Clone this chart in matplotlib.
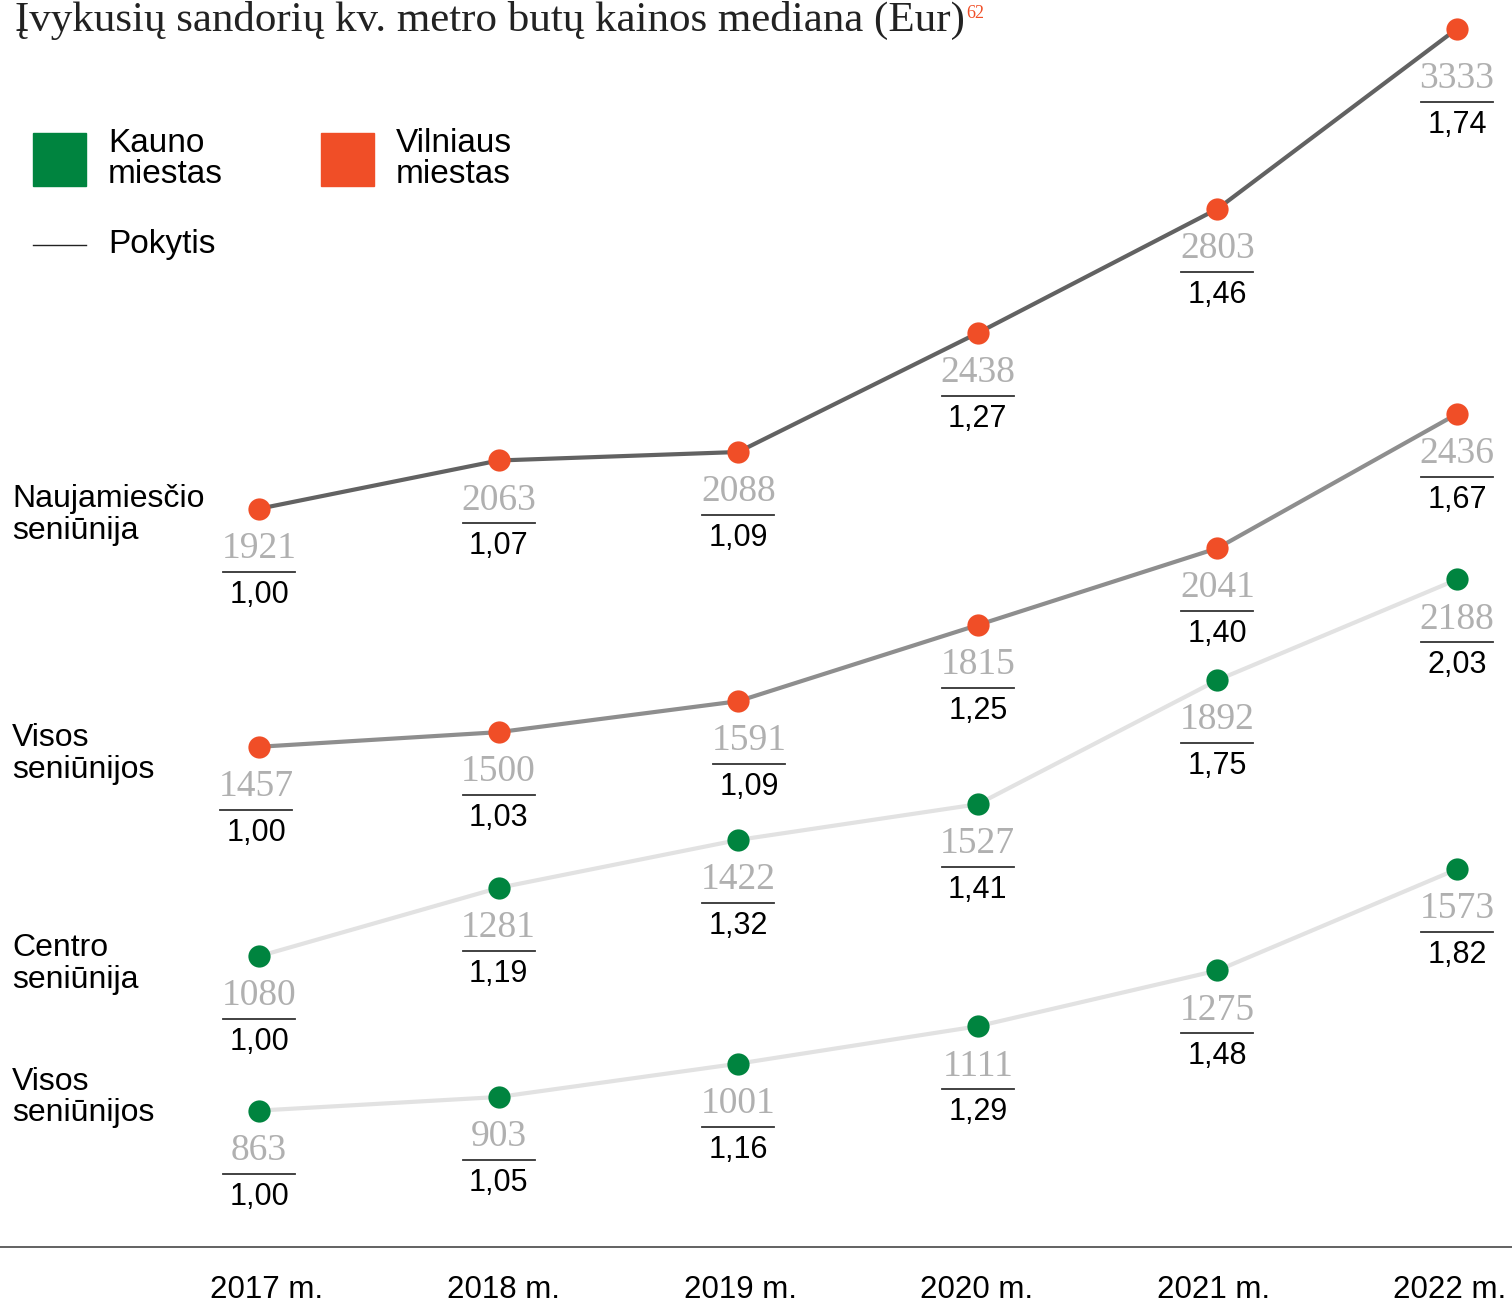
import matplotlib.pyplot as plt
from matplotlib.patches import Rectangle
from matplotlib.lines import Line2D

# ---- data ----
years = [2017, 2018, 2019, 2020, 2021, 2022]
year_labels = ['2017 m.', '2018 m.', '2019 m.', '2020 m.', '2021 m.', '2022 m.']

vln_naujam = [1921, 2063, 2088, 2438, 2803, 3333]
vln_naujam_ratio = ['1,00', '1,07', '1,09', '1,27', '1,46', '1,74']
vln_visos = [1457, 1500, 1591, 1815, 2041, 2436]
vln_visos_ratio = ['1,00', '1,03', '1,09', '1,25', '1,40', '1,67']
kau_centro = [1080, 1281, 1422, 1527, 1892, 2188]
kau_centro_ratio = ['1,00', '1,19', '1,32', '1,41', '1,75', '2,03']
kau_visos = [863, 903, 1001, 1111, 1275, 1573]
kau_visos_ratio = ['1,00', '1,05', '1,16', '1,29', '1,48', '1,82']

# ---- style ----
W, H = 1512, 1308
GREEN = '#00843f'
ORANGE = '#f04e27'
SANS = ['Liberation Sans', 'DejaVu Sans']
SERIF = ['Liberation Serif', 'DejaVu Serif']

fig = plt.figure(figsize=(W / 100, H / 100), dpi=100)
ax = fig.add_axes([0, 0, 1, 1])
XLIM = (2015.919, 2022.2295)
YLIM = (282.35, 4129.4)
ax.set_xlim(*XLIM)
ax.set_ylim(*YLIM)
ax.axis('off')

px_x = (XLIM[1] - XLIM[0]) / W
px_y = (YLIM[1] - YLIM[0]) / H

# series: values, ratios, vertical stacking offset, line colour, dot colour,
# row label and its vertical shift (pixels) from the first point
series = [
    (vln_naujam, vln_naujam_ratio, 712, '#626262', ORANGE, 'Naujamiesčio\nseniūnija', -6),
    (vln_visos, vln_visos_ratio, 476, '#8e8e8e', ORANGE, 'Visos\nseniūnijos', -7),
    (kau_centro, kau_centro_ratio, 237, '#e2e2e2', GREEN, 'Centro\nseniūnija', -8),
    (kau_visos, kau_visos_ratio, 0, '#e2e2e2', GREEN, 'Visos\nseniūnijos', 13),
]

# small label nudges in pixels (series index, point index) -> (dx, dy)
nudge = {(0, 5): (0, -10), (1, 2): (11, 0), (1, 0): (-3, 0)}

for si, (vals, ratios, off, lc, dc, name, ldy) in enumerate(series):
    ys = [v + off for v in vals]
    ax.plot(years, ys, color=lc, lw=3, zorder=2, solid_capstyle='round')
    ax.plot(years, ys, 'o', color=dc, ms=16, mec='none', zorder=3)
    for pi, (x, y, v, r) in enumerate(zip(years, ys, vals, ratios)):
        dx, dy = nudge.get((si, pi), (0, 0))
        ax.annotate(str(v), (x, y), xytext=(dx, -40 + dy), textcoords='offset pixels',
                    ha='center', va='center', fontsize=27, family=SERIF,
                    color='#b0b0b0', fontweight='light')
        yl = y - (63 - dy) * px_y
        xc = x + dx * px_x
        ax.plot([xc - 36 * px_x, xc + 36 * px_x], [yl, yl], color='#333333', lw=1.3)
        ax.annotate(r, (x, y), xytext=(dx, -86 + dy), textcoords='offset pixels',
                    ha='center', va='center', fontsize=22, family=SANS, color='black')
    # row label at the left edge, level with the first point
    ax.annotate(name, (0, ys[0]), xycoords=('figure pixels', 'data'),
                xytext=(12, ldy), textcoords='offset pixels', ha='left', va='center',
                fontsize=23, family=SANS, linespacing=1.08)

# baseline and year labels
ax.axhline(YLIM[0] + (H - 1247) * px_y, color='#555555', lw=1.3)
for i, lab in enumerate(year_labels):
    fig.text((267 + i * 236.6) / W, 1 - 1290 / H, lab, ha='center', va='center',
             fontsize=22.5, family=SANS)

# title with orange footnote mark right after it
t = fig.text(15 / W, 1 - 20 / H, 'Įvykusių sandorių kv. metro butų kainos mediana (Eur)',
             ha='left', va='center', fontsize=31, family=SERIF, color='#222222')
fig.canvas.draw()
bb = t.get_window_extent()
fig.text(bb.x1 / W + 1 / W, 1 - 13 / H, '62', ha='left', va='center', fontsize=13,
         family=SERIF, color=ORANGE)

# legend
fig.patches.append(Rectangle((33 / W, 1 - 186 / H), 53 / W, 53 / H, color=GREEN,
                             transform=fig.transFigure))
fig.patches.append(Rectangle((321 / W, 1 - 186 / H), 53 / W, 53 / H, color=ORANGE,
                             transform=fig.transFigure))
fig.text(108 / W, 1 - 159 / H, 'Kauno\nmiestas', ha='left', va='center', fontsize=24,
         family=SANS, linespacing=1.0)
fig.text(396 / W, 1 - 159 / H, 'Vilniaus\nmiestas', ha='left', va='center', fontsize=24,
         family=SANS, linespacing=1.0)
fig.lines.append(Line2D([33 / W, 86 / W], [1 - 245 / H] * 2, color='#222222', lw=1,
                        transform=fig.transFigure))
fig.text(108 / W, 1 - 245 / H, 'Pokytis', ha='left', va='center', fontsize=24, family=SANS)

fig.savefig('out.png', dpi=100)
